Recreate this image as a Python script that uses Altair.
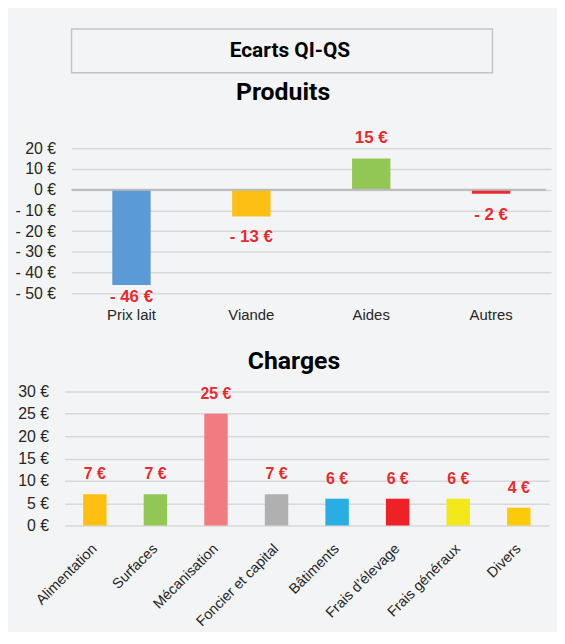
import altair as alt
import pandas as pd

# ---------------- data ----------------
box_title = "Ecarts QI-QS"
prod_title = "Produits"
charge_title = "Charges"

prod_cats = ["Prix lait", "Viande", "Aides", "Autres"]
prod_vals = [-46, -13, 15, -2]
prod_colors = ["#5b9bd5", "#fdbf14", "#92c756", "#ea2a2f"]
prod_ticks = [20, 10, 0, -10, -20, -30, -40, -50]

charge_cats = ["Alimentation", "Surfaces", "Mécanisation", "Foncier et capital",
               "Bâtiments", "Frais d’élevage", "Frais généraux", "Divers"]
charge_vals = [7, 7, 25, 7, 6, 6, 6, 4]
charge_colors = ["#fdc010", "#92c756", "#f27b82", "#b0b0b0",
                 "#29aee3", "#ee2226", "#f2e81a", "#fdca0a"]
charge_ticks = [0, 5, 10, 15, 20, 25, 30]

# ---------------- style ----------------
TITLE_FONT = "Roboto, 'Liberation Sans', sans-serif"
LAB_FONT = "'Liberation Sans', Arial, sans-serif"
TXT = "#262626"
RED = "#ea2a2f"
GRID = "#d8d8d8"
EURO_AXIS = "datum.value < 0 ? '- ' + abs(datum.value) + ' €' : datum.value + ' €'"
EURO_TXT = "datum.val < 0 ? '- ' + abs(datum.val) + ' €' : datum.val + ' €'"

prod_df = pd.DataFrame({"cat": prod_cats, "val": prod_vals})
charge_df = pd.DataFrame({"cat": charge_cats, "val": charge_vals})
zero_df = pd.DataFrame({"z": [0]})

PW = 478  # plot width

# ---------------- title box ----------------
box = alt.Chart(pd.DataFrame({"t": [box_title]})).mark_text(
    font=TITLE_FONT, fontSize=21, fontWeight="bold", color="#000000", baseline="middle", dx=8
).encode(text="t:N").properties(
    width=424, height=44,
    view=alt.ViewBackground(stroke="#c4c4c4", strokeWidth=1.5)
)

# ---------------- Produits ----------------
p_xscale = alt.Scale(range=[0, 483], paddingInner=0.68, paddingOuter=0.34)
p_yscale = alt.Scale(domain=[-50, 20], nice=False, zero=False)
p_xaxis = alt.Axis(title=None, labelAngle=0, labelFont=LAB_FONT, labelFontSize=15,
                   labelColor=TXT, labelPadding=15, ticks=False, tickSize=0,
                   domain=False, grid=False)
p_yaxis = alt.Axis(title=None, values=prod_ticks, labelExpr=EURO_AXIS, grid=True,
                   gridColor=GRID, gridWidth=1.5, ticks=False, tickSize=0,
                   domain=False, labelPadding=16, labelFont=LAB_FONT,
                   labelFontSize=16, labelColor=TXT, labelOverlap=False)

p_x = alt.X("cat:N", sort=prod_cats, scale=p_xscale, axis=p_xaxis)

p_bars = alt.Chart(prod_df).mark_bar().encode(
    x=p_x, y=alt.Y("val:Q", scale=p_yscale, axis=p_yaxis),
    color=alt.Color("cat:N", scale=alt.Scale(domain=prod_cats, range=prod_colors), legend=None),
)
p_zero = alt.Chart(zero_df).mark_rule(color="#bababa", strokeWidth=2).encode(
    y=alt.Y("z:Q", scale=p_yscale, axis=p_yaxis)
)
p_lab = alt.Chart(prod_df).transform_calculate(
    txt=EURO_TXT, pos="max(datum.val, -42)"
)
p_pos = p_lab.transform_filter("datum.val >= 0").mark_text(
    dy=-21, font=LAB_FONT, fontSize=17, fontWeight="bold", color=RED, baseline="middle"
).encode(x=p_x, y=alt.Y("pos:Q", scale=p_yscale, axis=p_yaxis), text="txt:N")
p_neg = p_lab.transform_filter("datum.val < 0").mark_text(
    dy=21, font=LAB_FONT, fontSize=17, fontWeight="bold", color=RED, baseline="middle"
).encode(x=p_x, y=alt.Y("pos:Q", scale=p_yscale, axis=p_yaxis), text="txt:N")

prod = alt.layer(p_bars, p_zero, p_pos, p_neg).properties(
    width=PW, height=146,
    title=alt.TitleParams(prod_title, font=TITLE_FONT, fontSize=25, fontWeight="bold",
                          color="#000000", anchor="middle", frame="bounds", offset=24),
)

# ---------------- Charges ----------------
c_xscale = alt.Scale(range=[-7, 481], paddingInner=0.613, paddingOuter=0.3065)
c_yscale = alt.Scale(domain=[0, 30], nice=False)
c_xaxis = alt.Axis(title=None, labelAngle=-45, labelAlign="right", labelBaseline="middle",
                   labelFont=LAB_FONT, labelFontSize=14.5, labelColor=TXT,
                   labelPadding=21, ticks=False, tickSize=0, domain=False, grid=False,
                   labelOverlap=False)
c_yaxis = alt.Axis(title=None, values=charge_ticks, labelExpr=EURO_AXIS, grid=True,
                   gridColor=GRID, gridWidth=1.5, ticks=False, tickSize=0,
                   domain=False, labelPadding=23, labelFont=LAB_FONT,
                   labelFontSize=16, labelColor=TXT, labelOverlap=False)
c_x = alt.X("cat:N", sort=charge_cats, scale=c_xscale, axis=c_xaxis)
c_y = alt.Y("val:Q", scale=c_yscale, axis=c_yaxis)

c_bars = alt.Chart(charge_df).mark_bar().encode(
    x=c_x, y=c_y,
    color=alt.Color("cat:N", scale=alt.Scale(domain=charge_cats, range=charge_colors), legend=None),
)
c_lab = alt.Chart(charge_df).transform_calculate(txt=EURO_TXT).mark_text(
    dy=-20, font=LAB_FONT, fontSize=16, fontWeight="bold", color=RED, baseline="middle"
).encode(x=c_x, y=c_y, text="txt:N")

charges = alt.layer(c_bars, c_lab).properties(
    width=PW, height=135,
    title=alt.TitleParams(charge_title, font=TITLE_FONT, fontSize=25, fontWeight="bold",
                          color="#000000", anchor="middle", frame="group", dx=-15, offset=10),
)

inner = alt.vconcat(prod, charges, spacing=24).resolve_scale(color="independent")
chart = alt.vconcat(box, inner, spacing=5).resolve_scale(color="independent").configure(
    background="#f3f4f6",
    padding={"left": 6, "top": 18, "right": 0, "bottom": 0},
    font=LAB_FONT,
).configure_view(stroke="transparent")

chart.save("out.html", embed_options={"renderer": "svg", "actions": False})
